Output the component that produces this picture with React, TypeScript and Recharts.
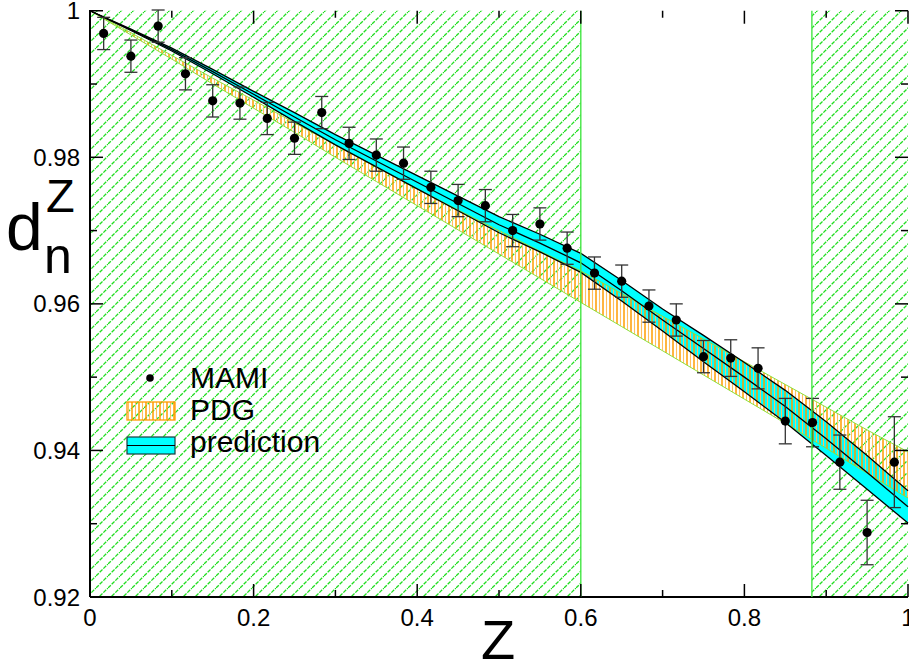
import React from 'react';
import { ComposedChart, Area, Line, Scatter, ErrorBar, XAxis, YAxis, ReferenceArea, Legend } from 'recharts';

// band grid (z) and curve values
const zGrid = [0, 0.05, 0.1, 0.15, 0.2, 0.25, 0.3, 0.35, 0.4, 0.45, 0.5, 0.55, 0.6, 0.65, 0.7, 0.75, 0.8, 0.85, 0.9, 0.95, 1];
const predCenter = [1.0, 0.9974, 0.9947, 0.9917, 0.9886, 0.9855, 0.9824, 0.9795, 0.9766, 0.9737, 0.9708, 0.9683, 0.9656, 0.9618, 0.9578, 0.9539, 0.95, 0.946, 0.9416, 0.937, 0.9323];
const predHigh = [1.0, 0.9975, 0.9949, 0.992, 0.989, 0.9861, 0.9831, 0.9803, 0.9775, 0.9747, 0.9719, 0.9695, 0.9669, 0.9632, 0.9593, 0.9557, 0.952, 0.9482, 0.9439, 0.9393, 0.9345];
const predLow = [1.0, 0.9973, 0.9945, 0.9914, 0.9882, 0.9849, 0.9817, 0.9787, 0.9757, 0.9727, 0.9697, 0.9671, 0.9643, 0.9604, 0.9563, 0.9521, 0.948, 0.9438, 0.9393, 0.9347, 0.9301];
const pdgHigh = [1.0, 0.997, 0.9939, 0.9908, 0.9878, 0.9847, 0.9817, 0.9787, 0.9757, 0.9728, 0.97, 0.9672, 0.9645, 0.9614, 0.9583, 0.9552, 0.9521, 0.949, 0.9459, 0.9428, 0.9398];
const pdgLow = [1.0, 0.9967, 0.9934, 0.99, 0.9867, 0.9834, 0.98, 0.9767, 0.9734, 0.9701, 0.9668, 0.9635, 0.9602, 0.9569, 0.9536, 0.9503, 0.947, 0.9437, 0.9403, 0.9369, 0.9335];

// MAMI points
const mamiZ = [0.0167, 0.05, 0.0833, 0.1167, 0.15, 0.1833, 0.2167, 0.25, 0.2833, 0.3167, 0.35, 0.3833, 0.4167, 0.45, 0.4833, 0.5167, 0.55, 0.5833, 0.6167, 0.65, 0.6833, 0.7167, 0.75, 0.7833, 0.8167, 0.85, 0.8833, 0.9167, 0.95, 0.9833];
const mamiD = [0.9969, 0.9938, 0.9979, 0.9914, 0.9877, 0.9874, 0.9853, 0.9826, 0.9861, 0.9819, 0.9803, 0.9792, 0.9759, 0.9741, 0.9734, 0.97, 0.9709, 0.9676, 0.9642, 0.9631, 0.9597, 0.9578, 0.9528, 0.9526, 0.9512, 0.944, 0.9438, 0.9384, 0.9288, 0.9384];
const mamiErr = [0.0022, 0.0022, 0.0022, 0.0022, 0.0022, 0.0022, 0.0022, 0.0022, 0.0022, 0.0022, 0.0022, 0.0022, 0.0022, 0.0022, 0.0022, 0.0022, 0.0022, 0.0022, 0.0022, 0.0022, 0.0022, 0.0022, 0.0022, 0.0025, 0.0028, 0.0031, 0.0033, 0.0037, 0.0044, 0.0062];

// hatched z ranges
const zoneStart = [0, 0.8825];
const zoneEnd = [0.6, 1];
const zoneEdges = [0.6, 0.8825];

const xMajor = [0, 0.2, 0.4, 0.6, 0.8, 1];
const xMajorLabels = ['0', '0.2', '0.4', '0.6', '0.8', '1'];
const xMinor = [0.1, 0.3, 0.5, 0.7, 0.9];
const yMajor = [0.92, 0.94, 0.96, 0.98, 1];
const yMajorLabels = ['0.92', '0.94', '0.96', '0.98', '1'];
const yMinor = [0.93, 0.95, 0.97, 0.99];

const bandData = zGrid.map((z, i) => ({
  z,
  pred: [predLow[i], predHigh[i]],
  mid: predCenter[i],
  pdg: [pdgLow[i], pdgHigh[i]],
}));
const mamiData = mamiZ.map((z, i) => ({ z, d: mamiD[i], err: mamiErr[i] }));

// anchor points of the inward frame ticks (on the four plot edges)
const bottomMajor = xMajor.map((z) => ({ z, d: 0.92 }));
const bottomMinor = xMinor.map((z) => ({ z, d: 0.92 }));
const topMajor = xMajor.map((z) => ({ z, d: 1 }));
const topMinor = xMinor.map((z) => ({ z, d: 1 }));
const leftMajor = yMajor.map((d) => ({ z: 0, d }));
const leftMinor = yMinor.map((d) => ({ z: 0, d }));
const rightMajor = yMajor.map((d) => ({ z: 1, d }));
const rightMinor = yMinor.map((d) => ({ z: 1, d }));

const FONT = '"Liberation Sans", Arial, Helvetica, sans-serif';
const frameLine = { stroke: '#000', strokeWidth: 2 };

const tickMark = (dx: number, dy: number) => (p: any) => (
  <line x1={p.cx} y1={p.cy} x2={p.cx + dx} y2={p.cy + dy} stroke="#000" strokeWidth={1.5} />
);
const noShape = () => <g />;

const XLabelTick = ({ x, y, index }: any) => (
  <text x={x} y={y + 29} textAnchor="middle" fontSize={24} fontFamily={FONT} fill="#000">{xMajorLabels[index]}</text>
);

const YLabelTick = ({ x, y, index }: any) => (
  <text x={x - 10} y={y + 8.5} textAnchor="end" fontSize={24} fontFamily={FONT} fill="#000">{yMajorLabels[index]}</text>
);

const XTitle = () => (
  <text x={498} y={659} textAnchor="middle" fontSize={56} fontFamily={FONT} fill="#000">Z</text>
);

const YTitle = () => (
  <text fontFamily={FONT} fill="#000">
    <tspan x={6} y={250} fontSize={66}>d</tspan>
    <tspan x={44} y={273} fontSize={50}>n</tspan>
    <tspan x={46} y={212} fontSize={47}>Z</tspan>
  </text>
);

const LegendBox = () => (
  <svg width={230} height={110} style={{ fontFamily: FONT, overflow: 'visible' }}>
    <defs>
      <pattern id="pdgHatchLegend" patternUnits="userSpaceOnUse" width="7" height="10">
        <line x1="1" y1="0" x2="1" y2="10" stroke="#ff9c00" strokeWidth="1.5" />
        <line x1="4.5" y1="0" x2="4.5" y2="10" stroke="#ffc060" strokeWidth="1.1" />
      </pattern>
    </defs>
    <circle cx={40} cy={23} r={3.8} fill="#000" />
    <text x={80} y={33} fontSize={30} fill="#000">MAMI</text>
    <rect x={17} y={47} width={48} height={18} fill="url(#pdgHatchLegend)" stroke="#ff9c00" strokeWidth={1.3} />
    <text x={80} y={65} fontSize={30} fill="#000">PDG</text>
    <rect x={17} y={82} width={48} height={17} fill="#00ffff" stroke="#1a3a3a" strokeWidth={1.2} />
    <line x1={17} y1={90.5} x2={65} y2={90.5} stroke="#000" strokeWidth={1.2} />
    <text x={80} y={97} fontSize={30} fill="#000">prediction</text>
  </svg>
);

export default function App() {
  return (
    <div style={{ position: 'absolute', left: 0, top: 0, width: 909, height: 663, background: '#fff', fontFamily: FONT }}>
      <ComposedChart width={909} height={663} data={bandData} margin={{ top: 10, right: 1, bottom: 0, left: 0 }}>
        <defs>
          <pattern id="greenHatch" patternUnits="userSpaceOnUse" width="12" height="12">
            <path d="M-3,3 L3,-3 M0,12 L12,0 M9,15 L15,9" stroke="#22dd22" strokeWidth="1.3" strokeDasharray="4 1.2" />
          </pattern>
          <pattern id="pdgHatch" patternUnits="userSpaceOnUse" width="7" height="10">
            <line x1="1" y1="0" x2="1" y2="10" stroke="#ff9c00" strokeWidth="1.5" />
            <line x1="4.5" y1="0" x2="4.5" y2="10" stroke="#ffc060" strokeWidth="1.1" />
          </pattern>
        </defs>
        {zoneStart.map((s, i) => (
          <ReferenceArea key={i} x1={s} x2={zoneEnd[i]} y1={0.92} y2={1} fill="url(#greenHatch)" fillOpacity={1} stroke="none" />
        ))}
        {/* zone borders, drawn as series so the bands cover them */}
        {zoneEdges.map((z) => (
          <Scatter
            key={z}
            data={[{ z, d: 0.92 }, { z, d: 1 }]}
            dataKey="d"
            line={{ stroke: '#44e644', strokeWidth: 1.4 }}
            shape={noShape}
            isAnimationActive={false}
          />
        ))}
        <Area type="linear" dataKey="pred" fill="#00ffff" fillOpacity={1} stroke="none" isAnimationActive={false} />
        <Area type="linear" dataKey="pdg" fill="url(#pdgHatch)" fillOpacity={1} stroke="#8ee03a" strokeWidth={1} isAnimationActive={false} />
        <Area type="linear" dataKey="pred" fill="none" stroke="#000" strokeWidth={1.3} isAnimationActive={false} />
        <Line type="linear" dataKey="mid" stroke="#000" strokeWidth={1.3} dot={false} isAnimationActive={false} />
        <Scatter
          data={mamiData}
          dataKey="d"
          isAnimationActive={false}
          shape={(p: any) => <circle cx={p.cx} cy={p.cy} r={4.6} fill="#000" />}
        >
          <ErrorBar dataKey="err" direction="y" width={6.5} stroke="#333" strokeWidth={1.3} />
        </Scatter>

        {/* inward frame ticks */}
        <Scatter data={bottomMajor} dataKey="d" isAnimationActive={false} shape={tickMark(0, -13)} />
        <Scatter data={bottomMinor} dataKey="d" isAnimationActive={false} shape={tickMark(0, -7)} />
        <Scatter data={topMajor} dataKey="d" isAnimationActive={false} shape={tickMark(0, 13)} />
        <Scatter data={topMinor} dataKey="d" isAnimationActive={false} shape={tickMark(0, 7)} />
        <Scatter data={leftMajor} dataKey="d" isAnimationActive={false} shape={tickMark(13, 0)} />
        <Scatter data={leftMinor} dataKey="d" isAnimationActive={false} shape={tickMark(7, 0)} />
        <Scatter data={rightMajor} dataKey="d" isAnimationActive={false} shape={tickMark(-13, 0)} />
        <Scatter data={rightMinor} dataKey="d" isAnimationActive={false} shape={tickMark(-7, 0)} />

        <XAxis
          dataKey="z"
          type="number"
          domain={[0, 1]}
          ticks={xMajor}
          interval={0}
          height={66}
          tickSize={0}
          tickMargin={0}
          tickLine={false}
          axisLine={frameLine}
          tick={(p: any) => <XLabelTick {...p} />}
          label={<XTitle />}
        />
        <XAxis
          xAxisId="top"
          orientation="top"
          dataKey="z"
          type="number"
          domain={[0, 1]}
          ticks={xMajor}
          interval={0}
          height={0}
          tickSize={0}
          tickMargin={0}
          tickLine={false}
          axisLine={frameLine}
          tick={false}
        />
        <YAxis
          type="number"
          domain={[0.92, 1]}
          ticks={yMajor}
          interval={0}
          width={90}
          tickSize={0}
          tickMargin={0}
          tickLine={false}
          axisLine={frameLine}
          tick={(p: any) => <YLabelTick {...p} />}
          label={<YTitle />}
        />
        <YAxis
          yAxisId="right"
          orientation="right"
          type="number"
          domain={[0.92, 1]}
          ticks={yMajor}
          interval={0}
          width={0}
          tickSize={0}
          tickMargin={0}
          tickLine={false}
          axisLine={frameLine}
          tick={false}
        />
        <Legend
          layout="horizontal"
          verticalAlign="middle"
          align="center"
          wrapperStyle={{ left: 110, top: 355, width: 230, height: 110 }}
          content={() => <LegendBox />}
        />
      </ComposedChart>
    </div>
  );
}
